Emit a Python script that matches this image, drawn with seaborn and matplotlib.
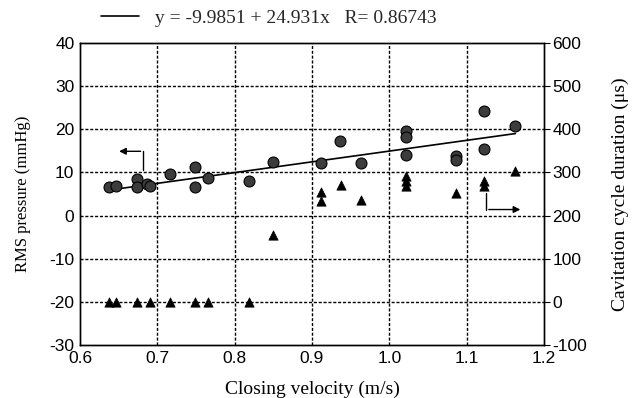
import matplotlib
matplotlib.use("Agg")
import matplotlib.pyplot as plt
import seaborn as sns
import pandas as pd
import numpy as np
from matplotlib.lines import Line2D

# RMS pressure (left axis, circles)
rms_velocity = [0.637, 0.647, 0.674, 0.674, 0.686, 0.690, 0.717, 0.749, 0.749, 0.766,
                0.818, 0.849, 0.911, 0.936, 0.963, 1.022, 1.022, 1.022, 1.086, 1.086,
                1.123, 1.123, 1.163]
rms_pressure = [6.7, 6.9, 8.5, 6.7, 7.4, 6.9, 9.6, 11.3, 6.7, 8.8,
                8.1, 12.5, 12.1, 17.3, 12.1, 19.6, 18.2, 14.0, 13.8, 12.9,
                24.3, 15.4, 20.8]

# Cavitation cycle duration (right axis, triangles)
cav_velocity = [0.637, 0.647, 0.674, 0.690, 0.717, 0.749, 0.766, 0.819,
                0.849, 0.912, 0.912, 0.937, 0.963, 1.022, 1.022, 1.022,
                1.086, 1.123, 1.123, 1.163]
cav_duration = [0, 0, 0, 0, 0, 0, 0, 0,
                155, 255, 234, 271, 235, 292, 280, 268,
                252, 280, 269, 304]

# regression
intercept, slope, r_value = -9.9851, 24.931, 0.86743

x_ticks = [0.6, 0.7, 0.8, 0.9, 1.0, 1.1, 1.2]
x_ticklabels = ["0.6", "0.7", "0.8", "0.9", "1.0", "1.1", "1.2"]
left_ticks = [-30, -20, -10, 0, 10, 20, 30, 40]
right_ticks = [-100, 0, 100, 200, 300, 400, 500, 600]

sns.set_theme(style="white")
serif = ["Liberation Serif", "DejaVu Serif"]
tickfont = ["Liberation Sans Narrow", "Liberation Sans", "DejaVu Sans"]
plt.rcParams["font.family"] = serif

fig = plt.figure(figsize=(6.32, 3.98), dpi=100)
ax = fig.add_axes([80/632, 1-345/398, (544-80)/632, (345-43)/398])
ax2 = ax.twinx()

df_rms = pd.DataFrame({"v": rms_velocity, "p": rms_pressure})
df_cav = pd.DataFrame({"v": cav_velocity, "d": cav_duration})

sns.scatterplot(data=df_rms, x="v", y="p", ax=ax, marker="o", s=62,
                color="#3c3c3c", edgecolor="black", linewidth=0.8, zorder=3)
xs = np.array([min(rms_velocity), max(rms_velocity)])
sns.lineplot(x=xs, y=intercept + slope * xs, ax=ax, color="black", lw=1.2, zorder=2.5)

sns.scatterplot(data=df_cav, x="v", y="d", ax=ax2, marker="^", s=45,
                color="black", edgecolor="black", linewidth=0.5, zorder=3)

# arrows
ax.annotate("", xy=(0.647, 14.9), xytext=(0.682, 14.9),
            arrowprops=dict(arrowstyle="-|>", color="black", lw=1.0, mutation_scale=10))
ax.plot([0.682, 0.682], [10.5, 14.9], color="black", lw=1.0)
ax.annotate("", xy=(1.173, 1.4), xytext=(1.125, 1.4),
            arrowprops=dict(arrowstyle="-|>", color="black", lw=1.0, mutation_scale=10))
ax.plot([1.125, 1.125], [5.3, 1.4], color="black", lw=1.0)

ax.set_xlim(0.6, 1.2)
ax.set_ylim(-30, 40)
ax2.set_ylim(-100, 600)
ax.set_xticks(x_ticks)
ax.set_xticklabels(x_ticklabels)
ax.set_yticks(left_ticks)
ax.set_yticklabels([str(t) for t in left_ticks])
ax2.set_yticks(right_ticks)
ax2.set_yticklabels([str(t) for t in right_ticks])

# dashed grid, drawn after limits are fixed, above the axes background
for xv in x_ticks[1:-1]:
    ax.axvline(xv, color="black", linewidth=1.0, linestyle=(0, (2.2, 1.3)), zorder=2)
for yv in left_ticks[1:-1]:
    ax.axhline(yv, color="black", linewidth=1.0, linestyle=(0, (2.2, 1.3)), zorder=2)

for a in (ax, ax2):
    for sp in a.spines.values():
        sp.set_color("black")
        sp.set_linewidth(1.0)
    a.tick_params(length=3, width=0.8, color="black", labelsize=12.5, pad=3)
    for lab in a.get_xticklabels() + a.get_yticklabels():
        lab.set_family(tickfont)
        lab.set_color("black")
ax.tick_params(axis="x", direction="in", pad=4)
ax.tick_params(axis="y", direction="in", length=0, pad=4)
ax2.tick_params(axis="y", direction="out", length=4, pad=2)

ax.set_xlabel("Closing velocity (m/s)", fontsize=14, color="black", labelpad=11)
ax.set_ylabel("RMS pressure (mmHg)", fontsize=12, color="black", labelpad=13)
ax2.set_ylabel("Cavitation cycle duration (\u03bcs)", fontsize=14, color="black", labelpad=18)

handle = Line2D([0], [0], color="black", lw=1.2)
fig.legend([handle], [f"y = {intercept} + {slope}x   R= {r_value}"],
           loc="center", bbox_to_anchor=(0.425, 0.955), frameon=False,
           fontsize=14, handlelength=2.0, handletextpad=0.8)

fig.savefig("out.png", dpi=100)
